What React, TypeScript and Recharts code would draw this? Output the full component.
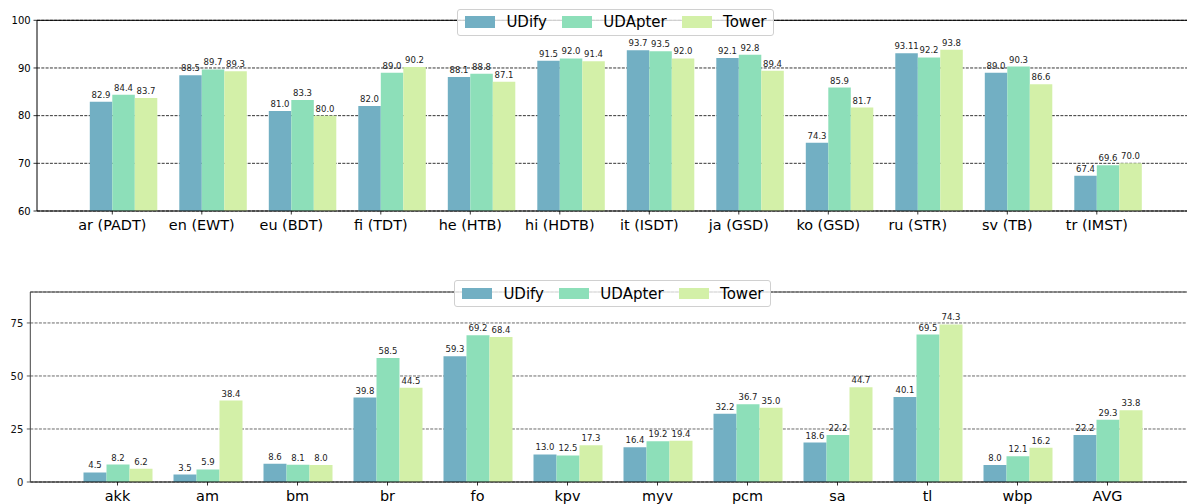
import { BarChart, Bar, XAxis, YAxis, CartesianGrid, Legend, LabelList, ReferenceLine } from 'recharts'

const seriesNames = ['UDify', 'UDApter', 'Tower']

const topCats = ['ar (PADT)', 'en (EWT)', 'eu (BDT)', 'fi (TDT)', 'he (HTB)', 'hi (HDTB)', 'it (ISDT)', 'ja (GSD)', 'ko (GSD)', 'ru (STR)', 'sv (TB)', 'tr (IMST)']
const topUdify = [82.9, 88.5, 81.0, 82.0, 88.1, 91.5, 93.7, 92.1, 74.3, 93.11, 89.0, 67.4]
const topUdapter = [84.4, 89.7, 83.3, 89.0, 88.8, 92.0, 93.5, 92.8, 85.9, 92.2, 90.3, 69.6]
const topTower = [83.7, 89.3, 80.0, 90.2, 87.1, 91.4, 92.0, 89.4, 81.7, 93.8, 86.6, 70.0]
const topTicks = [60, 70, 80, 90, 100]

const lowCats = ['akk', 'am', 'bm', 'br', 'fo', 'kpv', 'myv', 'pcm', 'sa', 'tl', 'wbp', 'AVG']
const lowUdify = [4.5, 3.5, 8.6, 39.8, 59.3, 13.0, 16.4, 32.2, 18.6, 40.1, 8.0, 22.2]
const lowUdapter = [8.2, 5.9, 8.1, 58.5, 69.2, 12.5, 19.2, 36.7, 22.2, 69.5, 12.1, 29.3]
const lowTower = [6.2, 38.4, 8.0, 44.5, 68.4, 17.3, 19.4, 35.0, 44.7, 74.3, 16.2, 33.8]
const lowTicks = [0, 25, 50, 75]

const C_UDIFY = '#72afc3'
const C_UDAPTER = '#8ddfb9'
const C_TOWER = '#d3f0a8'

const topData = topCats.map((cat, i) => ({ cat, udify: topUdify[i], udapter: topUdapter[i], tower: topTower[i] }))
const lowData = lowCats.map((cat, i) => ({ cat, udify: lowUdify[i], udapter: lowUdapter[i], tower: lowTower[i] }))

// keep "93.11" as is, pad the rest to one decimal
const fmt = (v: any) => {
  const s = String(v)
  return s.includes('.') ? s : Number(v).toFixed(1)
}

function makeTick(shift: number) {
  return ({ x, y, payload }: any) => (
    <g>
      <line x1={x + shift} x2={x + shift} y1={y} y2={y + 3.5} stroke="#000" strokeWidth={0.8} />
      <text x={x + shift} y={y + 19} textAnchor="middle" fontSize={14.4} fill="#000">
        {payload.value}
      </text>
    </g>
  )
}

function LegendBox({ payload }: any) {
  const items = [...(payload || [])].sort((a: any, b: any) => seriesNames.indexOf(a.value) - seriesNames.indexOf(b.value))
  return (
    <div
      style={{
        display: 'flex',
        alignItems: 'center',
        gap: 15,
        padding: '0 6px 0 6.7px',
        height: 25,
        background: 'rgba(255,255,255,0.8)',
        border: '1px solid #d0d0d0',
        borderRadius: 3,
        fontSize: 15,
        color: '#000',
        whiteSpace: 'nowrap',
      }}
    >
      {items.map((p: any) => (
        <div key={p.value} style={{ display: 'flex', alignItems: 'center' }}>
          <span style={{ display: 'inline-block', width: 30, height: 11.4, background: p.color, marginRight: 11.4 }} />
          <span>{p.value}</span>
        </div>
      ))}
    </div>
  )
}

const labelProps = { position: 'top' as const, offset: 4, fontSize: 8.5, fill: '#222', formatter: fmt }

export default function App() {
  return (
    <div style={{ position: 'absolute', left: 0, top: 0, width: 1187, height: 504, fontFamily: '"DejaVu Sans", sans-serif', background: '#fff' }}>
      <div style={{ position: 'absolute', left: 0, top: 0 }}>
        <BarChart width={1187} height={240} data={topData} margin={{ top: 20.3, right: 0, bottom: 0, left: 0 }} barGap={0} barSize={22.5}>
          <CartesianGrid vertical={false} stroke="#000" strokeDasharray="3 1.3" strokeWidth={0.8} />
          <XAxis
            dataKey="cat"
            height={29}
            padding={{ left: 41.8, right: 34.2 }}
            tickSize={0}
            tickMargin={0}
            tickLine={false}
            axisLine={{ stroke: '#000', strokeWidth: 1 }}
            tick={makeTick(-11.25)}
            interval={0}
          />
          <YAxis
            width={37}
            domain={[60, 100]}
            ticks={topTicks}
            allowDataOverflow
            tickSize={3.5}
            tickMargin={2.8}
            tickLine={{ stroke: '#000', strokeWidth: 0.8 }}
            axisLine={{ stroke: '#000', strokeWidth: 1 }}
            tick={{ fontSize: 10, fill: '#000' }}
          />
          <ReferenceLine y={100} stroke="#000" strokeWidth={1} />
          <Legend
            layout="horizontal"
            verticalAlign="middle"
            content={<LegendBox />}
            wrapperStyle={{ left: 457.3, top: 8.7, width: 'auto', height: 'auto' }}
          />
          <Bar dataKey="udify" name="UDify" fill={C_UDIFY} isAnimationActive={false}>
            <LabelList dataKey="udify" {...labelProps} />
          </Bar>
          <Bar dataKey="udapter" name="UDApter" fill={C_UDAPTER} isAnimationActive={false}>
            <LabelList dataKey="udapter" {...labelProps} />
          </Bar>
          <Bar dataKey="tower" name="Tower" fill={C_TOWER} isAnimationActive={false}>
            <LabelList dataKey="tower" {...labelProps} />
          </Bar>
        </BarChart>
      </div>
      <div style={{ position: 'absolute', left: 0, top: 270 }}>
        <BarChart width={1187} height={234} data={lowData} margin={{ top: 22, right: 0, bottom: 0, left: 0 }} barGap={0} barSize={23}>
          <CartesianGrid vertical={false} stroke="#444" strokeDasharray="3 1.3" strokeWidth={0.8} />
          <XAxis
            dataKey="cat"
            height={22}
            padding={{ left: 42.2, right: 34.5 }}
            tickSize={0}
            tickMargin={0}
            tickLine={false}
            axisLine={{ stroke: '#000', strokeWidth: 1 }}
            tick={makeTick(0)}
            interval={0}
          />
          <YAxis
            width={30.3}
            domain={[0, 89.6]}
            ticks={lowTicks}
            allowDataOverflow
            tickSize={3.5}
            tickMargin={3.5}
            tickLine={{ stroke: '#333', strokeWidth: 0.8 }}
            axisLine={{ stroke: '#444', strokeWidth: 1 }}
            tick={{ fontSize: 10, fill: '#111' }}
          />
          <ReferenceLine y={89.6} stroke="#444" strokeWidth={1} />
          <Legend
            layout="horizontal"
            verticalAlign="middle"
            content={<LegendBox />}
            wrapperStyle={{ left: 454.3, top: 10, width: 'auto', height: 'auto' }}
          />
          <Bar dataKey="udify" name="UDify" fill={C_UDIFY} isAnimationActive={false}>
            <LabelList dataKey="udify" {...labelProps} />
          </Bar>
          <Bar dataKey="udapter" name="UDApter" fill={C_UDAPTER} isAnimationActive={false}>
            <LabelList dataKey="udapter" {...labelProps} />
          </Bar>
          <Bar dataKey="tower" name="Tower" fill={C_TOWER} isAnimationActive={false}>
            <LabelList dataKey="tower" {...labelProps} />
          </Bar>
        </BarChart>
      </div>
    </div>
  )
}
